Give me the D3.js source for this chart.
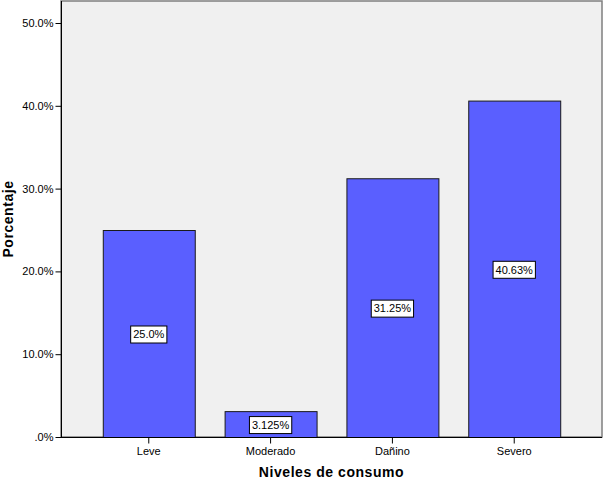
<!DOCTYPE html>
<html><head><meta charset="utf-8">
<script src="https://cdn.jsdelivr.net/npm/d3@7"></script>
<style>body{margin:0;background:#fff}svg{display:block}</style>
</head><body>
<svg id="c" width="604" height="480"></svg>
<script>
const categories = ["Leve", "Moderado", "Dañino", "Severo"];
const values = [25.0, 3.125, 31.25, 40.63];
const valueLabels = ["25.0%", "3.125%", "31.25%", "40.63%"];
const yTicks = [0, 10, 20, 30, 40, 50];
const yTickLabels = [".0%", "10.0%", "20.0%", "30.0%", "40.0%", "50.0%"];
const xTitle = "Niveles de consumo";
const yTitle = "Porcentaje";

const svg = d3.select("#c");
const L = 61, R = 602, T = 1, B = 437;
const font = "Arial, 'Liberation Sans', sans-serif";

svg.append("rect").attr("x", L).attr("y", T).attr("width", R - L).attr("height", B - T)
  .attr("fill", "#f0f0f0").attr("stroke", "#7f7f7f").attr("stroke-width", 1.5);

const x = d3.scaleBand().domain(categories).range([L, R]).paddingInner(0.245).paddingOuter(0.343);
const y = d3.scaleLinear().domain([0, 52.6]).range([B, B - 52.6 * 8.28]);

svg.selectAll("rect.bar").data(values).join("rect").attr("class", "bar")
  .attr("x", (d, i) => x(categories[i]) + 0.5)
  .attr("y", d => y(d) + 0.5)
  .attr("width", x.bandwidth())
  .attr("height", d => B - y(d))
  .attr("fill", "#5a5fff").attr("stroke", "#1a1a1a").attr("stroke-width", 1);

// y axis
const yAxis = d3.axisLeft(y).tickValues(yTicks).tickSize(6).tickPadding(2)
  .tickFormat((d, i) => yTickLabels[i]);
const gy = svg.append("g").attr("transform", `translate(${L + 0.5},0)`).call(yAxis);
gy.select(".domain").attr("stroke", "#000").attr("d", `M0,${T}V${B + 0.5}`);
gy.selectAll(".tick line").attr("stroke", "#000");
gy.selectAll("text").attr("font-family", font).attr("font-size", 11).attr("fill", "#000");

// x axis
const xAxis = d3.axisBottom(x).tickSize(6).tickPadding(4).tickSizeOuter(0);
const gx = svg.append("g").attr("transform", `translate(0,${B + 0.5})`).call(xAxis);
gx.select(".domain").attr("stroke", "#000").attr("d", `M${L},0H${R}`);
gx.selectAll(".tick line").attr("stroke", "#000");
gx.selectAll("text").attr("font-family", font).attr("font-size", 11).attr("fill", "#000");

// value labels
const lab = svg.selectAll("g.lab").data(values).join("g").attr("class", "lab")
  .attr("transform", (d, i) => `translate(${x(categories[i]) + x.bandwidth() / 2},${(y(d) + B) / 2 + 1})`);
lab.each(function (d, i) {
  const g = d3.select(this);
  const t = g.append("text").text(valueLabels[i]).attr("font-family", font).attr("font-size", 11)
    .attr("text-anchor", "middle").attr("dy", "0.35em").attr("fill", "#000");
  const w = t.node().getComputedTextLength();
  g.insert("rect", "text").attr("x", -w / 2 - 2.5).attr("y", -8.5).attr("width", w + 5).attr("height", 17)
    .attr("fill", "#fff").attr("stroke", "#000").attr("stroke-width", 1);
});

svg.append("text").attr("x", (L + R) / 2).attr("y", 477).attr("text-anchor", "middle")
  .attr("font-family", font).attr("font-weight", "bold").attr("font-size", 14)
  .attr("letter-spacing", 0.55).text(xTitle);
svg.append("text").attr("transform", `translate(13,${(T + B) / 2}) rotate(-90)`).attr("text-anchor", "middle")
  .attr("font-family", font).attr("font-weight", "bold").attr("font-size", 14)
  .attr("letter-spacing", 0.55).text(yTitle);
</script>
</body></html>
